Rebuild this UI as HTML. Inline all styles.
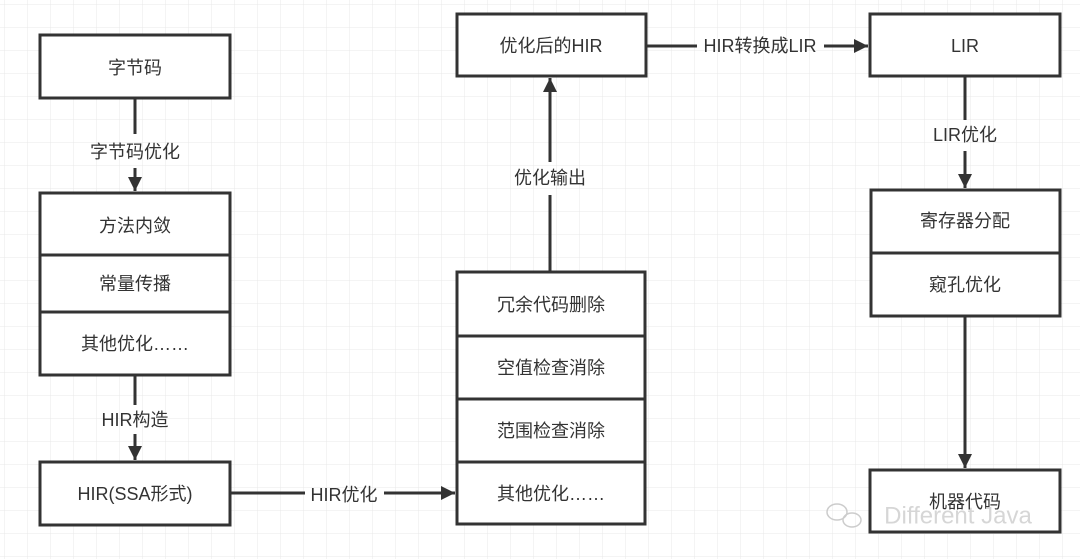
<!DOCTYPE html>
<html><head><meta charset="utf-8"><style>
html,body{margin:0;padding:0;background:#fff;}
svg{display:block;}
text{font-family:"Liberation Sans","Noto Sans CJK SC",sans-serif;font-size:18px;fill:#333;text-anchor:middle;dominant-baseline:central;}
</style></head><body>
<svg width="1080" height="559" viewBox="0 0 1080 559" xmlns="http://www.w3.org/2000/svg">
<defs>
<pattern id="g" width="23" height="23" patternUnits="userSpaceOnUse" x="5" y="5">
<path d="M23 0V23M0 23H23" stroke="#e8e8e8" stroke-width="1" fill="none"/>
</pattern>
<marker id="a" markerWidth="10" markerHeight="10" refX="9" refY="5" orient="auto" markerUnits="userSpaceOnUse">
<path d="M0 0L10 5L0 10z" fill="#333"/>
</marker>
<marker id="b" markerWidth="14" markerHeight="14" refX="14" refY="7" orient="auto" markerUnits="userSpaceOnUse">
<path d="M0 0L14 7L0 14z" fill="#333"/>
</marker>
</defs>
<rect width="1080" height="559" fill="url(#g)"/>
<g fill="#fff" stroke="#333" stroke-width="3">
<rect x="40" y="35" width="190" height="63"/>
<rect x="40" y="193" width="190" height="182"/>
<line x1="40" y1="255" x2="230" y2="255"/><line x1="40" y1="312" x2="230" y2="312"/>
<rect x="40" y="462" width="190" height="63"/>
<rect x="457" y="14" width="189" height="62"/>
<rect x="457" y="272" width="188" height="252"/>
<line x1="457" y1="336" x2="645" y2="336"/><line x1="457" y1="399" x2="645" y2="399"/><line x1="457" y1="462" x2="645" y2="462"/>
<rect x="870" y="14" width="190" height="62"/>
<rect x="871" y="190" width="189" height="126"/>
<line x1="871" y1="253" x2="1060" y2="253"/>
<rect x="870" y="470" width="190" height="62"/>
</g>
<g stroke="#333" stroke-width="3" fill="none">
<line x1="135" y1="98" x2="135" y2="134"/><line x1="135" y1="168" x2="135" y2="191" marker-end="url(#b)"/>
<line x1="135" y1="375" x2="135" y2="405"/><line x1="135" y1="434" x2="135" y2="460" marker-end="url(#b)"/>
<line x1="230" y1="493" x2="305" y2="493"/><line x1="384" y1="493" x2="455" y2="493" marker-end="url(#b)"/>
<line x1="550" y1="272" x2="550" y2="195"/><line x1="550" y1="162" x2="550" y2="78" marker-end="url(#b)"/>
<line x1="646" y1="46" x2="697" y2="46"/><line x1="824" y1="46" x2="868" y2="46" marker-end="url(#b)"/>
<line x1="965" y1="76" x2="965" y2="120"/><line x1="965" y1="151" x2="965" y2="188" marker-end="url(#b)"/>
<line x1="965" y1="316" x2="965" y2="468" marker-end="url(#b)"/>
</g>
<text x="135" y="68">字节码</text>
<text x="135" y="152">字节码优化</text>
<text x="135" y="226">方法内敛</text>
<text x="135" y="284">常量传播</text>
<text x="135" y="344">其他优化……</text>
<text x="135" y="420">HIR构造</text>
<text x="135" y="494">HIR(SSA形式)</text>
<text x="344" y="495">HIR优化</text>
<text x="551" y="46">优化后的HIR</text>
<text x="550" y="178">优化输出</text>
<text x="760" y="46">HIR转换成LIR</text>
<text x="965" y="46">LIR</text>
<text x="965" y="135">LIR优化</text>
<text x="551" y="305">冗余代码删除</text>
<text x="551" y="368">空值检查消除</text>
<text x="551" y="431">范围检查消除</text>
<text x="551" y="494">其他优化……</text>
<text x="965" y="221">寄存器分配</text>
<text x="965" y="285">窥孔优化</text>
<text x="965" y="502">机器代码</text>
<text x="958" y="516" style="font-size:24px;fill:#ccc;fill-opacity:0.8;">Different Java</text>
<g fill="none" stroke="#ccc" stroke-width="1.5"><ellipse cx="837" cy="512" rx="10" ry="8"/><ellipse cx="852" cy="520" rx="9" ry="7"/></g>
</svg>
</body></html>
